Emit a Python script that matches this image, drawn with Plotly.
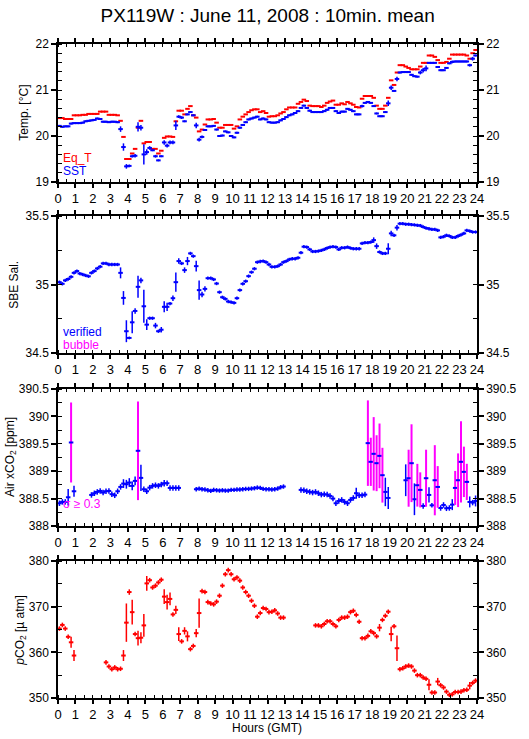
import plotly.graph_objects as go

# ---------------- data (10-minute bins, 144 per day) ----------------
hours = [(i + 0.5) / 6 for i in range(144)]

sst = [20.22, 20.20, 20.21, 20.21, 20.27, 20.28, 20.28, 20.28, 20.29, 20.32,
       20.33, 20.34, 20.35, 20.38, 20.37, 20.31, 20.31, 20.30, 20.31, 20.31,
       20.30, 20.15, 19.76, 19.34, 19.35, 19.56, 19.57, 20.20, 20.18, 19.60,
       19.65, 19.74, 19.69, 19.56, 19.47, 19.56, 19.86, 19.79, 19.86, 19.86,
       20.23, 20.42, 20.40, 20.32, 20.47, 20.52, 20.45, 20.23, 19.92, 19.98,
       20.13, 20.21, 20.21, 20.22, 20.14, 20.00, 20.01, 20.10, 20.08, 20.00,
       19.97, 20.07, 20.18, 20.24, 20.30, 20.36, 20.38, 20.40, 20.42, 20.36,
       20.38, 20.36, 20.30, 20.29, 20.29, 20.30, 20.34, 20.37, 20.41, 20.45,
       20.47, 20.50, 20.54, 20.61, 20.66, 20.61, 20.55, 20.52, 20.52, 20.52,
       20.52, 20.54, 20.57, 20.61, 20.61, 20.54, 20.50, 20.53, 20.53, 20.59,
       20.57, 20.54, 20.47, 20.47, 20.65, 20.72, 20.74, 20.72, 20.65, 20.49,
       20.43, 20.43, 20.52, 20.71, 21.05, 20.98, 21.24, 21.38, 21.39, 21.39,
       21.39, 21.33, 21.30, 21.29, 21.38, 21.43, 21.47, 21.59, 21.59, 21.59,
       21.50, 21.43, 21.43, 21.48, 21.58, 21.61, 21.62, 21.62, 21.62, 21.62,
       21.62, 21.54, 21.68, 21.75]
sst_err = [0.02, 0.02, 0.02, 0.02, 0.02, 0.02, 0.02, 0.02, 0.02, 0.02,
           0.02, 0.02, 0.02, 0.02, 0.02, 0.02, 0.02, 0.02, 0.02, 0.02,
           0.02, 0.06, 0.08, 0.05, 0.03, 0.03, 0.04, 0.10, 0.06, 0.22,
           0.06, 0.04, 0.02, 0.03, 0.02, 0.02, 0.05, 0.04, 0.04, 0.04,
           0.10, 0.03, 0.03, 0.02, 0.02, 0.02, 0.02, 0.06, 0.04, 0.03,
           0.02, 0.02, 0.02, 0.02, 0.02, 0.02, 0.02, 0.02, 0.02, 0.02,
           0.02, 0.02, 0.02, 0.02, 0.02, 0.02, 0.02, 0.02, 0.02, 0.02,
           0.02, 0.02, 0.02, 0.02, 0.02, 0.02, 0.02, 0.02, 0.02, 0.02,
           0.02, 0.02, 0.02, 0.02, 0.02, 0.02, 0.02, 0.02, 0.02, 0.02,
           0.02, 0.02, 0.02, 0.02, 0.02, 0.02, 0.02, 0.02, 0.02, 0.02,
           0.02, 0.02, 0.02, 0.02, 0.03, 0.02, 0.02, 0.02, 0.02, 0.02,
           0.02, 0.02, 0.02, 0.06, 0.05, 0.02, 0.05, 0.02, 0.02, 0.02,
           0.02, 0.02, 0.02, 0.02, 0.04, 0.05, 0.06, 0.02, 0.02, 0.02,
           0.02, 0.02, 0.02, 0.02, 0.02, 0.03, 0.02, 0.02, 0.02, 0.02,
           0.02, 0.03, 0.04, 0.02]

eq_t = [20.39, 20.39, 20.37, 20.37, 20.37, 20.45, 20.45, 20.45, 20.46, 20.46,
        20.48, 20.48, 20.48, 20.48, 20.53, 20.53, 20.53, 20.46, 20.46, 20.46,
        20.45, 20.33, 19.98, 19.50, 19.50, 19.62, 19.72, 20.18, 20.33, 19.84,
        19.87, 19.87, 19.72, 19.72, 19.62, 19.68, 19.96, 19.99, 19.99, 19.98,
        20.32, 20.55, 20.55, 20.47, 20.59, 20.65, 20.45, 20.40, 20.10, 20.14,
        20.25, 20.36, 20.36, 20.37, 20.29, 20.18, 20.18, 20.24, 20.24, 20.24,
        20.16, 20.21, 20.36, 20.42, 20.47, 20.52, 20.56, 20.58, 20.58, 20.52,
        20.54, 20.50, 20.42, 20.43, 20.43, 20.45, 20.49, 20.52, 20.58, 20.62,
        20.62, 20.62, 20.70, 20.74, 20.79, 20.76, 20.66, 20.65, 20.65, 20.65,
        20.63, 20.66, 20.72, 20.75, 20.77, 20.68, 20.68, 20.71, 20.69, 20.74,
        20.71, 20.68, 20.63, 20.62, 20.81, 20.87, 20.87, 20.87, 20.83, 20.66,
        20.59, 20.59, 20.66, 20.83, 21.21, 21.11, 21.38, 21.54, 21.54, 21.51,
        21.48, 21.45, 21.45, 21.45, 21.51, 21.59, 21.59, 21.75, 21.75, 21.72,
        21.65, 21.59, 21.59, 21.61, 21.68, 21.77, 21.77, 21.77, 21.77, 21.77,
        21.75, 21.68, 21.80, 21.87]
eq_t_err = [0.004] * 144

sal = [35.017, 35.005, 35.030, 35.040, 35.056, 35.085, 35.098, 35.080, 35.073, 35.066,
       35.060, 35.085, 35.098, 35.117, 35.130, 35.154, 35.154, 35.146, 35.146, 35.146,
       35.146, 35.085, 34.902, 34.659, 34.610, 34.724, 34.807, 34.983, 35.030, 34.841,
       34.707, 34.754, 34.754, 34.700, 34.659, 34.670, 34.837, 34.837, 34.861, 34.900,
       35.017, 35.171, 35.154, 35.105, 35.171, 35.227, 35.207, 35.134, 34.959, 34.927,
       34.968, 35.046, 35.046, 35.037, 35.007, 34.944, 34.907, 34.895, 34.876, 34.871,
       34.866, 34.900, 34.959, 35.005, 35.024, 35.061, 35.090, 35.115, 35.163, 35.168,
       35.171, 35.163, 35.146, 35.129, 35.129, 35.134, 35.146, 35.163, 35.171, 35.183,
       35.188, 35.188, 35.195, 35.232, 35.276, 35.273, 35.256, 35.241, 35.241, 35.244,
       35.249, 35.256, 35.266, 35.273, 35.276, 35.273, 35.256, 35.268, 35.268, 35.273,
       35.266, 35.261, 35.261, 35.261, 35.300, 35.305, 35.305, 35.310, 35.324, 35.280,
       35.237, 35.227, 35.227, 35.261, 35.373, 35.359, 35.415, 35.444, 35.444, 35.440,
       35.440, 35.437, 35.435, 35.432, 35.430, 35.420, 35.412, 35.407, 35.402, 35.402,
       35.395, 35.344, 35.349, 35.359, 35.354, 35.344, 35.344, 35.354, 35.363, 35.373,
       35.395, 35.390, 35.383, 35.383]
sal_err = [0.012, 0.012, 0.012, 0.012, 0.012, 0.012, 0.012, 0.012, 0.012, 0.012,
           0.012, 0.012, 0.012, 0.012, 0.012, 0.012, 0.012, 0.012, 0.012, 0.012,
           0.012, 0.040, 0.050, 0.080, 0.010, 0.080, 0.020, 0.080, 0.020, 0.120,
           0.040, 0.012, 0.012, 0.020, 0.012, 0.020, 0.040, 0.030, 0.012, 0.020,
           0.070, 0.020, 0.012, 0.020, 0.030, 0.012, 0.012, 0.040, 0.070, 0.020,
           0.020, 0.012, 0.012, 0.012, 0.012, 0.012, 0.012, 0.012, 0.012, 0.012,
           0.012, 0.012, 0.012, 0.012, 0.012, 0.012, 0.012, 0.012, 0.012, 0.012,
           0.012, 0.012, 0.012, 0.012, 0.012, 0.012, 0.012, 0.012, 0.012, 0.012,
           0.012, 0.012, 0.012, 0.012, 0.012, 0.012, 0.012, 0.012, 0.012, 0.012,
           0.012, 0.012, 0.012, 0.012, 0.012, 0.012, 0.012, 0.012, 0.012, 0.012,
           0.012, 0.012, 0.012, 0.012, 0.012, 0.012, 0.012, 0.012, 0.020, 0.020,
           0.012, 0.012, 0.012, 0.040, 0.020, 0.012, 0.020, 0.012, 0.012, 0.012,
           0.012, 0.012, 0.012, 0.012, 0.012, 0.012, 0.012, 0.012, 0.012, 0.012,
           0.012, 0.012, 0.012, 0.012, 0.012, 0.012, 0.012, 0.012, 0.012, 0.012,
           0.012, 0.012, 0.012, 0.012]

N = None
xco2 = [388.415, 388.440, 388.440, 388.524, 389.524, 388.634, N, N, N, N,
        N, 388.567, 388.597, 388.622, 388.640, 388.610, 388.634, 388.640, 388.580, 388.560,
        388.634, 388.713, 388.774, 388.762, 388.793, 388.732, 388.823, 389.372, 388.878, 388.670,
        388.634, 388.700, 388.732, 388.744, 388.732, 388.756, 388.780, 388.780, 388.695, 388.695,
        388.695, 388.695, N, N, N, N, N, 388.671, 388.683, 388.671,
        388.665, 388.652, 388.640, 388.659, 388.652, 388.646, 388.652, 388.646, 388.646, 388.659,
        388.659, 388.665, 388.665, 388.671, 388.677, 388.677, 388.683, 388.689, 388.701, 388.695,
        388.677, 388.671, 388.671, 388.665, 388.671, 388.683, 388.707, 388.720, N, N,
        N, N, N, 388.659, 388.652, 388.634, 388.622, 388.610, 388.622, 388.598,
        388.573, 388.579, 388.573, 388.549, 388.500, 388.415, 388.457, 388.476, 388.439, 388.415,
        388.476, 388.512, 388.598, 388.561, 388.561, 388.573, 389.512, 389.171, 389.317, 389.146,
        389.280, 388.927, 388.622, 388.512, N, N, N, N, N, 388.835,
        388.872, 389.146, 388.488, 388.744, 388.659, 388.366, 388.872, 388.567, 388.378, 388.835,
        388.713, 388.329, 388.384, 388.323, 388.329, 388.390, 388.695, 388.835, 389.171, 388.988,
        388.805, 388.439, 388.427, 388.457]
xco2_err = [0.05, 0.05, 0.05, 0.15, 0.73, 0.10, N, N, N, N,
            N, 0.05, 0.05, 0.05, 0.05, 0.05, 0.05, 0.05, 0.05, 0.05,
            0.05, 0.05, 0.08, 0.08, 0.08, 0.08, 0.08, 0.90, 0.24, 0.05,
            0.05, 0.05, 0.05, 0.05, 0.05, 0.05, 0.06, 0.05, 0.05, 0.05,
            0.05, 0.05, N, N, N, N, N, 0.04, 0.04, 0.04,
            0.04, 0.04, 0.04, 0.04, 0.04, 0.04, 0.04, 0.04, 0.04, 0.04,
            0.04, 0.04, 0.04, 0.04, 0.04, 0.04, 0.04, 0.04, 0.04, 0.04,
            0.04, 0.04, 0.04, 0.04, 0.04, 0.04, 0.04, 0.04, N, N,
            N, N, N, 0.05, 0.05, 0.05, 0.05, 0.05, 0.05, 0.05,
            0.05, 0.05, 0.05, 0.05, 0.05, 0.05, 0.05, 0.05, 0.05, 0.05,
            0.05, 0.05, 0.10, 0.05, 0.05, 0.05, 0.78, 0.44, 0.67, 0.51,
            0.59, 0.50, 0.26, 0.20, N, N, N, N, N, 0.29,
            0.52, 0.71, 0.29, 0.39, 0.32, 0.05, 0.52, 0.14, 0.04, 0.64,
            0.38, 0.05, 0.05, 0.05, 0.05, 0.10, 0.31, 0.49, 0.74, 0.46,
            0.33, 0.10, 0.05, 0.10]

pco2 = [365.2, 366.0, 365.2, 363.4, 362.2, 359.3, N, N, N, N,
        N, N, N, N, N, N, 357.8, 356.9, 356.3, 356.7,
        356.3, 356.4, 359.3, 366.5, 373.2, 368.8, 364.0, 363.1, 363.2, 365.9,
        375.1, 375.8, 374.2, 374.6, 375.3, 375.9, 372.2, 371.0, 371.7, 368.3,
        369.3, 364.0, 362.4, 364.7, 363.5, 360.7, 361.4, 364.2, 368.6, 373.4,
        373.2, 371.0, 370.7, 370.5, 371.1, 372.4, 374.6, 377.1, 378.0, 377.1,
        376.0, 376.4, 375.7, 374.2, 373.2, 372.4, 371.3, 370.2, 367.8, 368.6,
        369.7, 369.5, 368.8, 368.9, 369.2, 368.5, 367.6, 367.6, N, N,
        N, N, N, N, N, N, N, N, 365.9, 365.9,
        365.7, 366.2, 366.8, 366.8, 366.2, 365.7, 367.1, 367.6, 367.6, 367.8,
        368.8, 369.1, 368.2, 366.7, 363.1, 363.1, 363.6, 364.6, 364.2, 363.5,
        365.4, 367.1, 368.0, 368.9, 364.0, 365.7, 360.9, 356.3, 356.5, 356.9,
        357.1, 356.9, 356.0, 355.0, 355.0, 354.5, 354.2, 352.9, 351.2, 351.2,
        353.6, 352.8, 352.3, 351.4, 350.7, 350.8, 351.3, 351.3, 351.4, 351.7,
        351.8, 352.7, 353.3, 353.8]
pco2_err = [0.5, 0.5, 0.5, 0.5, 1.2, 1.2, N, N, N, N,
            N, N, N, N, N, N, 0.5, 0.5, 0.5, 0.5,
            0.5, 0.5, 1.2, 4.2, 0.6, 2.7, 0.5, 1.6, 1.2, 2.5,
            1.6, 0.5, 0.5, 0.5, 0.5, 0.5, 1.6, 1.6, 1.4, 0.5,
            0.9, 1.5, 0.5, 0.8, 1.1, 0.5, 0.5, 0.9, 3.2, 0.5,
            0.5, 0.5, 0.5, 0.5, 0.5, 0.5, 0.5, 0.5, 0.5, 0.5,
            0.5, 0.5, 0.5, 0.5, 0.5, 0.5, 0.5, 0.5, 0.5, 0.5,
            0.5, 0.5, 0.5, 0.5, 0.5, 0.5, 0.5, 0.5, N, N,
            N, N, N, N, N, N, N, N, 0.5, 0.5,
            0.5, 0.5, 0.5, 0.5, 0.5, 0.5, 0.5, 0.5, 0.5, 0.5,
            0.5, 0.5, 0.5, 0.5, 0.5, 0.5, 0.5, 0.5, 0.5, 0.5,
            0.8, 0.5, 0.5, 0.5, 1.6, 0.5, 2.8, 0.5, 0.5, 0.5,
            0.5, 0.5, 0.5, 0.5, 0.5, 0.5, 0.5, 1.2, 0.5, 0.5,
            0.8, 0.5, 0.5, 0.5, 0.5, 0.5, 0.5, 0.5, 0.5, 0.5,
            0.5, 0.8, 0.5, 0.5]

SIGMA_LIMIT = 0.3
x_ticks = list(range(0, 25))

RED = "#ff0000"
BLUE = "#0000ff"
MAG = "#ff00ff"
FONT = "Liberation Sans, Arial, Helvetica, sans-serif"
HALF_BAR = 0.13  # half width of the horizontal stroke of each cross, hours

# ---------------- figure ----------------
fig = go.Figure()


def cross_trace(x, y, err, color, axis, ecolor=None, thick=1.5):
    return go.Scatter(
        x=x, y=y, mode="markers",
        marker=dict(size=0.1, color=color, opacity=0),
        error_x=dict(type="constant", value=HALF_BAR, color=color, thickness=2, width=0),
        error_y=dict(type="data", array=err, color=ecolor or color, thickness=thick, width=0),
        xaxis="x" + axis, yaxis="y" + axis, showlegend=False, hoverinfo="skip",
    )


# panel 1: temperatures
fig.add_trace(cross_trace(hours, eq_t, eq_t_err, RED, ""))
fig.add_trace(cross_trace(hours, sst, sst_err, BLUE, ""))
# panel 2: salinity
fig.add_trace(cross_trace(hours, sal, sal_err, BLUE, "2"))
# panel 3: xCO2, split by sigma flag
xa_ok = [v if (v is not None and e < SIGMA_LIMIT) else None for v, e in zip(xco2, xco2_err)]
xa_bad = [v if (v is not None and e >= SIGMA_LIMIT) else None for v, e in zip(xco2, xco2_err)]
fig.add_trace(cross_trace(hours, xa_ok, xco2_err, BLUE, "3"))
fig.add_trace(cross_trace(hours, xa_bad, xco2_err, BLUE, "3", ecolor=MAG, thick=2))
# panel 4: pCO2
fig.add_trace(cross_trace(hours, pco2, pco2_err, RED, "4"))

# invisible traces for right-side axes
for i, ys in zip(range(5, 9), [sst, sal, xco2, pco2]):
    fig.add_trace(go.Scatter(x=hours, y=ys, mode="markers", marker=dict(size=0.1, opacity=0),
                             xaxis="x" + ("" if i == 5 else str(i - 4)), yaxis="y" + str(i),
                             showlegend=False, hoverinfo="skip"))

H, W = 739, 529
L, R, T, B = 58, 44, 44, 41
ph = H - T - B


def dom(top_px, bot_px):
    return [(H - B - bot_px) / ph, (H - B - top_px) / ph]


domains = [dom(44, 182), dom(216, 353), dom(389, 526), dom(561, 698)]
yranges = [[19, 22], [34.5, 35.5], [388, 390.5], [350, 380]]
ydt = [1, 0.5, 0.5, 10]
ymin = [0.2, 0.25, 0.25, 5]

axis_common = dict(showline=True, linecolor="black", linewidth=1.5, showgrid=False,
                   zeroline=False, ticks="outside", ticklen=5, tickwidth=1.5, tickcolor="black")

layout = dict(
    width=W, height=H, margin=dict(l=L, r=R, t=T, b=B),
    paper_bgcolor="white", plot_bgcolor="white",
    font=dict(family=FONT, color="black", size=12),
    showlegend=False,
    title=dict(text="PX119W : June 11, 2008 : 10min. mean", x=0.506, xref="container",
               xanchor="center", y=1 - 15 / H, yref="container", yanchor="middle",
               font=dict(size=19, family=FONT, color="black")),
)

for p in range(4):
    sfx = "" if p == 0 else str(p + 1)
    layout["xaxis" + sfx] = dict(
        axis_common, domain=[0, 1], range=[0, 24], anchor="y" + sfx,
        tickmode="array", tickvals=x_ticks, ticktext=[str(t) for t in x_ticks],
        mirror="ticks", ticklen=4,
        minor=dict(dtick=0.5, tick0=0, ticks="inside", ticklen=3, tickwidth=1, tickcolor="black"),
        tickfont=dict(size=13),
    )
    layout["yaxis" + sfx] = dict(
        axis_common, domain=domains[p], range=yranges[p], anchor="x" + sfx,
        dtick=ydt[p], tick0=yranges[p][0],
        minor=dict(dtick=ymin[p], tick0=yranges[p][0], ticks="inside", ticklen=4, tickwidth=1,
                   tickcolor="black"),
        tickfont=dict(size=12),
    )
    layout["yaxis" + str(p + 5)] = dict(
        axis_common, range=yranges[p], anchor="x" + sfx, overlaying="y" + sfx, side="right",
        dtick=ydt[p], tick0=yranges[p][0],
        minor=dict(dtick=ymin[p], tick0=yranges[p][0], ticks="inside", ticklen=4, tickwidth=1,
                   tickcolor="black"),
        tickfont=dict(size=12),
    )

fig.update_layout(**layout)


def px_x(px):
    return (px - L) / (W - L - R)


def px_y(py):
    return (H - B - py) / ph


ann = []
# y-axis titles
ytitles = [("Temp. [°C]", 23, 113), ("SBE Sal.", 13, 285),
           ("Air xCO<sub>2</sub> [ppm]", 10, 457), ("<i>p</i>CO<sub>2</sub> [µ atm]", 20, 630)]
for txt, xp, yp in ytitles:
    ann.append(dict(text=txt, x=px_x(xp), y=px_y(yp), xref="paper", yref="paper",
                    xanchor="center", yanchor="middle", textangle=-90, showarrow=False,
                    font=dict(size=12, family=FONT, color="black")))
# in-panel labels
labels = [("Eq_T", RED, 158), ("SST", BLUE, 171), ("verified", BLUE, 332),
          ("bubble", MAG, 345), ("σ ≥ 0.3", MAG, 504)]
for txt, col, yp in labels:
    ann.append(dict(text=txt, x=px_x(61), y=px_y(yp), xref="paper", yref="paper",
                    xanchor="left", yanchor="middle", showarrow=False,
                    font=dict(size=12, family=FONT, color=col)))
ann.append(dict(text="Hours (GMT)", x=px_x(271), y=px_y(728), xref="paper", yref="paper",
                xanchor="center", yanchor="middle", showarrow=False,
                font=dict(size=12, family=FONT, color="black")))
fig.update_layout(annotations=ann)

fig.write_html("out.html", config={"displayModeBar": False},
               post_script="document.body.style.margin='0px';document.body.style.padding='0px';")
